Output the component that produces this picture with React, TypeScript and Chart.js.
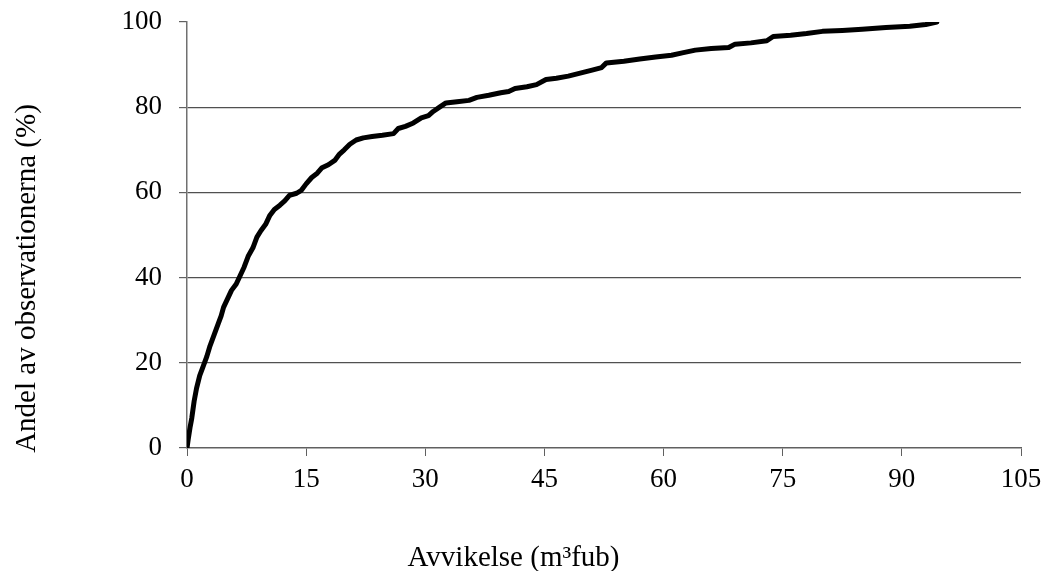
import React, { useEffect, useRef } from "react";
import { Chart, registerables } from "chart.js";

Chart.register(...registerables);

const deviation: number[] = [
  0, 0.15, 0.4, 0.6, 0.9, 1.2, 1.6, 2.0, 2.5, 2.9, 3.4, 3.9, 4.3, 4.6, 5.1, 5.6, 6.2, 6.7,
  7.2, 7.7, 8.3, 8.8, 9.3, 9.9, 10.4, 11.0, 11.7, 12.3, 12.9, 13.8, 14.4, 15.0, 15.7, 16.4,
  17.0, 17.8, 18.6, 19.2, 19.8, 20.5, 21.3, 22.2, 23.3, 24.6, 26.0, 26.6, 27.5, 28.5, 29.5,
  30.4, 31.0, 31.8, 32.6, 34.0, 35.5, 36.5, 38.0, 39.5, 40.5, 41.3, 42.8, 44.0, 45.2, 46.5,
  48.0, 49.5, 51.0, 52.2, 52.8, 55.0, 57.0, 59.0, 61.0, 62.5, 64.0, 66.0, 68.2, 69.0, 71.0,
  73.0, 73.8, 76.0, 78.0, 80.0, 82.5, 85.0, 88.0, 91.0, 93.0, 94.4,
];
const share: number[] = [
  0, 2, 5, 7, 11, 14, 17, 19, 21.5, 24, 26.5, 29, 31, 33, 35, 37, 38.5, 40.5,
  42.5, 45, 47, 49.5, 51, 52.5, 54.5, 56, 57, 58, 59.3, 59.8, 60.5, 62, 63.5, 64.5,
  65.8, 66.5, 67.5, 69, 70, 71.3, 72.3, 72.8, 73.1, 73.4, 73.8, 75, 75.5, 76.3, 77.5,
  78, 79, 80, 81, 81.3, 81.6, 82.3, 82.8, 83.4, 83.7, 84.4, 84.8, 85.3, 86.5, 86.8,
  87.3, 88.0, 88.7, 89.3, 90.4, 90.8, 91.3, 91.8, 92.2, 92.8, 93.4, 93.8, 94.0, 94.8, 95.1,
  95.6, 96.6, 96.9, 97.3, 97.8, 98.0, 98.3, 98.7, 99.0, 99.4, 100,
];
const xTicks: number[] = [0, 15, 30, 45, 60, 75, 90, 105];
const yTicks: number[] = [0, 20, 40, 60, 80, 100];
const xTitle = "Avvikelse (m³fub)";
const yTitle = "Andel av observationerna (%)";

const FONT = '"Liberation Serif", "Times New Roman", serif';

export default function App() {
  const ref = useRef<HTMLCanvasElement | null>(null);

  useEffect(() => {
    if (!ref.current) return;
    const titles = {
      id: "axisTitles",
      afterDraw(chart: any) {
        const ctx = chart.ctx;
        ctx.save();
        ctx.fillStyle = "#000";
        ctx.font = `29px ${FONT}`;
        ctx.textAlign = "center";
        ctx.textBaseline = "alphabetic";
        ctx.fillText(xTitle, 513.5, 566);
        ctx.translate(27, 278.5);
        ctx.rotate(-Math.PI / 2);
        ctx.textBaseline = "middle";
        ctx.fillText(yTitle, 0, 0);
        ctx.restore();
      },
    };
    const chart = new Chart(ref.current, {
      type: "line",
      data: {
        datasets: [
          {
            data: deviation.map((x, i) => ({ x, y: share[i] })),
            borderColor: "#000",
            borderWidth: 5,
            pointRadius: 0,
            tension: 0,
            fill: false,
            borderJoinStyle: "round",
            borderCapStyle: "round",
          },
        ],
      },
      options: {
        animation: false,
        responsive: false,
        maintainAspectRatio: false,
        layout: { padding: { left: 0, top: 22, right: 24, bottom: 0 } },
        plugins: { legend: { display: false }, tooltip: { enabled: false } },
        scales: {
          x: {
            type: "linear",
            min: 0,
            max: 105,
            afterBuildTicks: (s: any) => {
              s.ticks = xTicks.map((v) => ({ value: v }));
            },
            afterFit: (s: any) => {
              s.height = 123;
              s.paddingLeft = 0;
              s.paddingRight = 0;
            },
            ticks: {
              color: "#000",
              font: { family: FONT, size: 27 },
              padding: 8,
              maxRotation: 0,
              autoSkip: false,
            },
            grid: {
              drawOnChartArea: false,
              drawTicks: true,
              tickLength: 8,
              tickColor: "#606060",
            },
            border: { display: true, color: "#606060", width: 1.5 },
          },
          y: {
            type: "linear",
            min: 0,
            max: 100,
            afterBuildTicks: (s: any) => {
              s.ticks = yTicks.map((v) => ({ value: v }));
            },
            afterFit: (s: any) => {
              s.width = 187;
              s.paddingTop = 0;
              s.paddingBottom = 0;
            },
            ticks: {
              color: "#000",
              font: { family: FONT, size: 27 },
              padding: 17,
              autoSkip: false,
            },
            grid: {
              drawTicks: true,
              tickLength: 8,
              tickColor: "#606060",
              color: (c: any) =>
                c.tick && (c.tick.value === 100 || c.tick.value === 0)
                  ? "rgba(0,0,0,0)"
                  : "#505050",
              lineWidth: 1.2,
            },
            border: { display: true, color: "#707070", width: 1.5 },
          },
        },
      },
      plugins: [titles],
    });
    return () => chart.destroy();
  }, []);

  return (
    <div style={{ position: "absolute", left: 0, top: 0, width: 1045, height: 571, background: "#fff" }}>
      <canvas ref={ref} width={1045} height={571} style={{ width: 1045, height: 571, display: "block" }} />
    </div>
  );
}
